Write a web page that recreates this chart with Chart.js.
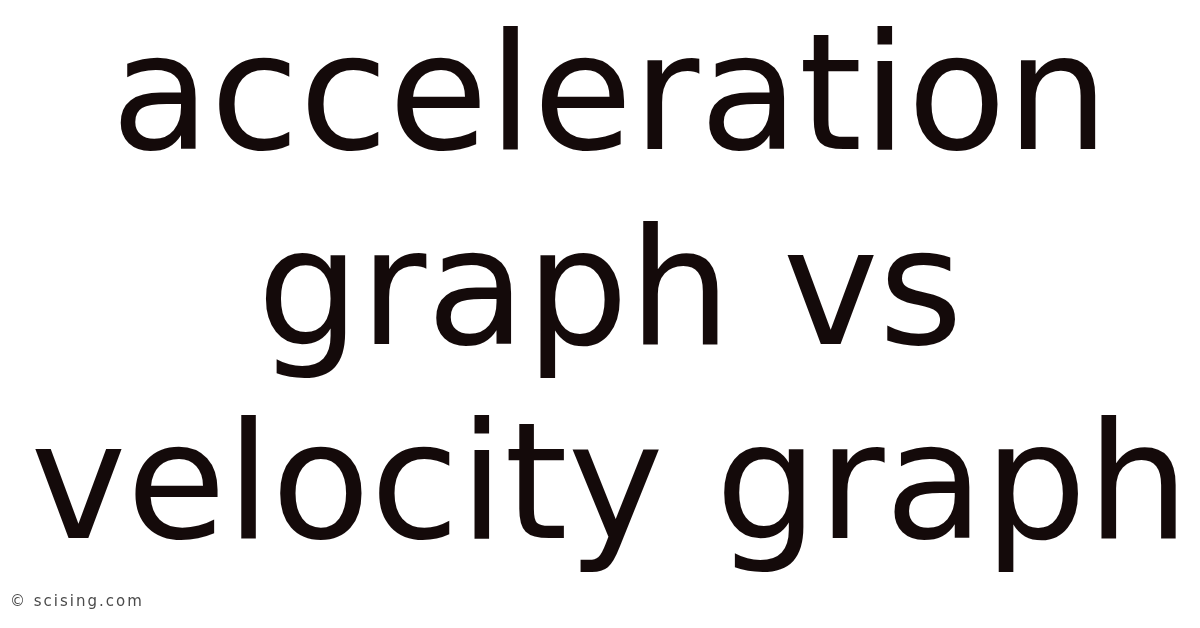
<!DOCTYPE html>
<html>
<head>
<meta charset="utf-8">
<script src="https://cdn.jsdelivr.net/npm/chart.js@4/dist/chart.umd.min.js"></script>
<style>
html,body{margin:0;padding:0;background:#ffffff;}
#wrap{width:1200px;height:628px;position:relative;}
</style>
</head>
<body>
<div id="wrap"><canvas id="c"></canvas></div>
<script>
// Text content of the image (no data series in the reference)
const titleLines = ["acceleration", "graph vs", "velocity graph"];
const creditLine = "© scising.com";
const categories = [];
const seriesValues = [];

// give the small credit line its wide letter spacing
const spacedSubtitle = {
  id: 'spacedSubtitle',
  beforeDraw(chart) {
    chart.boxes.forEach(function (b) {
      if (b !== chart.titleBlock && b.options && b.options.text === creditLine && !b._spaced) {
        const orig = b.draw.bind(b);
        b.draw = function (area) {
          const ctx = chart.ctx;
          ctx.save();
          ctx.letterSpacing = '2px';
          orig(area);
          ctx.restore();
        };
        b._spaced = true;
      }
    });
  }
};

new Chart(document.getElementById('c'), {
  type: 'bar',
  data: {
    labels: categories,
    datasets: [{ data: seriesValues }]
  },
  options: {
    responsive: true,
    maintainAspectRatio: false,
    animation: false,
    layout: { padding: { left: 10, right: -10, top: 0, bottom: 0 } },
    scales: { x: { display: false }, y: { display: false } },
    plugins: {
      legend: { display: false },
      tooltip: { enabled: false },
      title: {
        display: true,
        text: titleLines,
        color: '#140a0a',
        font: { family: 'DejaVu Sans', size: 162, weight: 'normal', lineHeight: 1.2 },
        padding: { top: 10, bottom: 0 }
      },
      subtitle: {
        display: true,
        position: 'bottom',
        align: 'start',
        text: creditLine,
        color: '#4a4a4a',
        font: { family: 'DejaVu Sans', size: 15, weight: 'normal', lineHeight: 1.2 },
        padding: { top: 0, bottom: 20 }
      }
    }
  },
  plugins: [spacedSubtitle]
});
</script>
</body>
</html>
